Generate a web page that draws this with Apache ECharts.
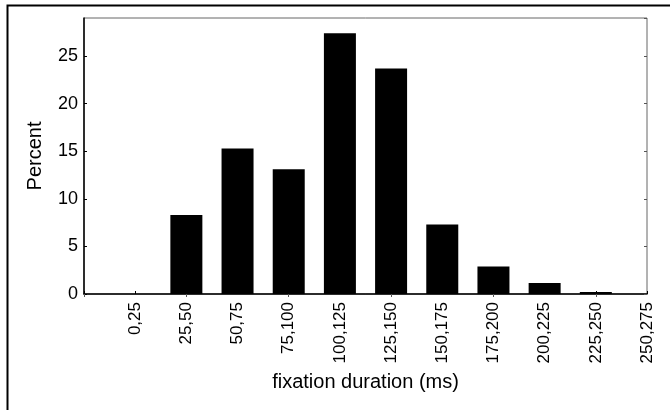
<!DOCTYPE html>
<html>
<head>
<meta charset="utf-8">
<style>
  html, body { margin: 0; padding: 0; background: #fff; }
  #main { width: 670px; height: 410px; }
</style>
<script src="https://cdn.jsdelivr.net/npm/echarts@6/dist/echarts.min.js"></script>
</head>
<body>
<div id="main"></div>
<script>
// fixation duration bins (ms) and share of fixations (%)
var categories = ['0,25', '25,50', '50,75', '75,100', '100,125', '125,150',
  '150,175', '175,200', '200,225', '225,250', '250,275'];
var percent = [0, 8.3, 15.3, 13.1, 27.4, 23.7, 7.3, 2.9, 1.15, 0.2, 0];
var yTicks = { min: 0, max: 29, step: 5 };

var font = 'Liberation Sans, Arial, sans-serif';

// leading blank slot so the bins sit on the ticks like the original
var xData = [''].concat(categories);
var yData = ['-'].concat(percent.map(function (v) { return v === 0 ? '-' : v; }));

var myChart = echarts.init(document.getElementById('main'));
myChart.setOption({
  animation: false,
  backgroundColor: '#fff',
  textStyle: { fontFamily: font },
  grid: {
    left: 84, right: 23, top: 18, bottom: 116,
    show: true, borderColor: '#666', borderWidth: 1
  },
  xAxis: [{
    type: 'category',
    data: xData,
    boundaryGap: false,
    name: 'fixation duration (ms)',
    nameLocation: 'middle',
    nameGap: 78,
    nameMoveOverlap: false,
    nameTextStyle: { color: '#000', fontSize: 20, fontFamily: font },
    axisLine: { lineStyle: { color: '#000', width: 1.5 } },
    axisTick: { inside: true, length: 3, lineStyle: { color: '#000' } },
    axisLabel: { rotate: 90, interval: 0, margin: 8, color: '#000', fontSize: 17, fontFamily: font }
  }, {
    type: 'category',
    data: xData,
    boundaryGap: false,
    position: 'top',
    axisLine: { show: false },
    axisTick: { inside: true, length: 3, lineStyle: { color: '#555' } },
    axisLabel: { show: false }
  }],
  yAxis: [{
    type: 'value',
    min: yTicks.min, max: yTicks.max, interval: yTicks.step,
    name: 'Percent',
    nameLocation: 'middle',
    nameGap: 39,
    nameMoveOverlap: false,
    nameTextStyle: { color: '#000', fontSize: 20, fontFamily: font },
    axisLine: { show: true, lineStyle: { color: '#000', width: 1.5 } },
    axisTick: { show: true, inside: true, length: 3, lineStyle: { color: '#000' } },
    axisLabel: { showMaxLabel: false, margin: 6, color: '#000', fontSize: 18, fontFamily: font },
    splitLine: { show: false }
  }, {
    type: 'value',
    position: 'right',
    min: yTicks.min, max: yTicks.max, interval: yTicks.step,
    axisLine: { show: false },
    axisTick: { show: true, inside: true, length: 3, lineStyle: { color: '#555' } },
    axisLabel: { show: false },
    splitLine: { show: false }
  }],
  graphic: [{
    type: 'polyline',
    silent: true,
    shape: { points: [[7.5, 410], [7.5, 5.5], [670, 5.5]] },
    style: { stroke: '#000', lineWidth: 2, fill: null }
  }],
  series: [{
    name: 'Percent',
    type: 'bar',
    data: yData,
    barWidth: 32,
    itemStyle: { color: '#000' }
  }]
});
</script>
</body>
</html>
